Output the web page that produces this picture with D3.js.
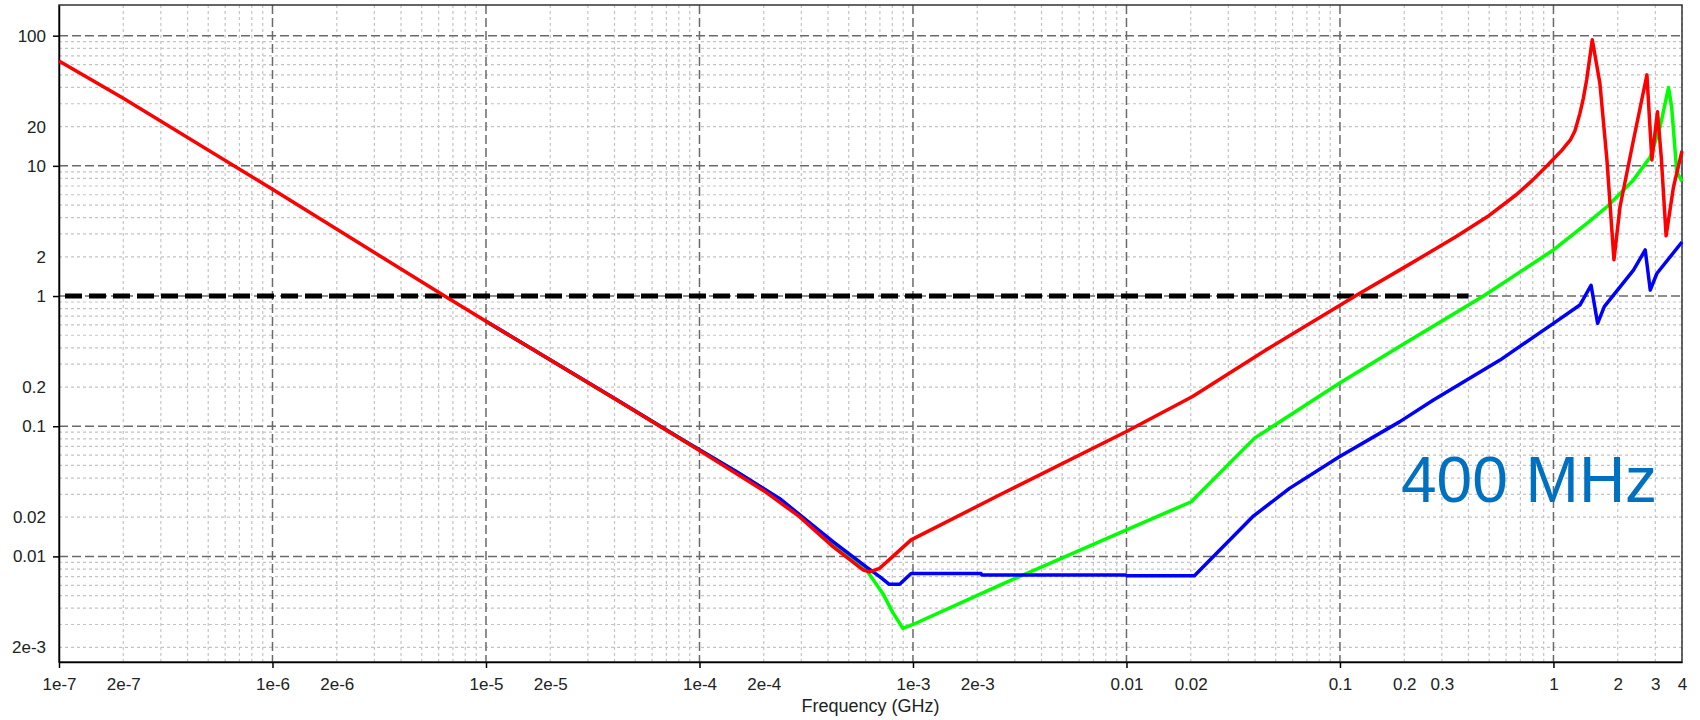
<!DOCTYPE html>
<html>
<head>
<meta charset="utf-8">
<script src="https://cdn.jsdelivr.net/npm/d3@7"></script>
<style>
  body { margin: 0; background: #fff; }
  svg { display: block; }
  .tick text { font-family: "Liberation Sans", Arial, sans-serif; font-size: 17px; fill: #222; }
</style>
</head>
<body>
<script>
// impedance |Z| (ohm) vs frequency (GHz)
const redSeries = [
  [1e-7, 64], [2e-7, 33], [1e-6, 6.6], [6.4e-6, 1.0], [1e-5, 0.64], [4.1e-5, 0.159],
  [1e-4, 0.065], [2e-4, 0.032], [2.94e-4, 0.0202], [4.22e-4, 0.0119], [5.82e-4, 0.0079],
  [6.26e-4, 0.0076], [6.98e-4, 0.0081], [8.05e-4, 0.0100], [9.8e-4, 0.0134],
  [2.54e-3, 0.0296], [0.01, 0.091], [0.0204, 0.169], [0.045, 0.385], [0.1, 0.85],
  [0.12, 1.02], [0.2, 1.66], [0.349, 2.85], [0.5, 4.16], [0.667, 5.97], [0.794, 7.7],
  [0.938, 10.1], [1.096, 13.2], [1.2, 15.8], [1.26, 18.5], [1.33, 25.3], [1.38, 33],
  [1.43, 45.6], [1.52, 93], [1.65, 43], [1.78, 11.1], [1.92, 1.9], [2.05, 4.85],
  [2.37, 15.8], [2.74, 50], [2.89, 11.1], [3.07, 26], [3.2, 11.5], [3.37, 2.9],
  [3.65, 6.9], [4, 13]
];

const greenSeries = [
  [1e-5, 0.64], [4.1e-5, 0.159], [1e-4, 0.066], [1.5e-4, 0.0445], [2.37e-4, 0.0276],
  [3e-4, 0.0203], [4.22e-4, 0.0126], [5.04e-4, 0.0100], [6.04e-4, 0.0079], [7.22e-4, 0.0052],
  [8.05e-4, 0.0037], [8.97e-4, 0.0028], [1.0e-3, 0.0030], [2.54e-3, 0.0060], [0.01, 0.016],
  [0.0201, 0.0263], [0.0398, 0.081], [0.0993, 0.214], [0.19, 0.41], [0.47, 1.0],
  [1.0, 2.26], [1.43, 3.6], [1.78, 4.85], [2.37, 7.8], [2.84, 11.7], [3.16, 20],
  [3.46, 40], [3.58, 28], [3.78, 9], [4, 7.6]
];

const blueSeries = [
  [1e-5, 0.64], [4.1e-5, 0.16], [8.4e-5, 0.078], [1.5e-4, 0.0445], [2.37e-4, 0.0279],
  [3e-4, 0.0204], [4.22e-4, 0.013], [5.04e-4, 0.0104], [6.04e-4, 0.0083], [6.98e-4, 0.0070],
  [7.75e-4, 0.0061], [8.66e-4, 0.0061], [9.8e-4, 0.0074], [2.08e-3, 0.0074],
  [2.1e-3, 0.0072], [0.0099, 0.0072], [0.0101, 0.0071], [0.0208, 0.0071], [0.039, 0.0202],
  [0.058, 0.0333], [0.0993, 0.0583], [0.19, 0.108], [0.274, 0.159], [0.562, 0.322],
  [1.0, 0.617], [1.33, 0.853], [1.5, 1.21], [1.61, 0.617], [1.73, 0.828], [2.37, 1.58],
  [2.69, 2.26], [2.84, 1.11], [3.05, 1.49], [4, 2.6]
];

// target impedance line (1 ohm up to 400 MHz)
const targetLine = [[1e-7, 1], [0.4, 1]];

const xTickValues = [1e-7, 2e-7, 1e-6, 2e-6, 1e-5, 2e-5, 1e-4, 2e-4, 1e-3, 2e-3, 0.01, 0.02, 0.1, 0.2, 0.3, 1, 2, 3, 4];
const xTickLabels = ["1e-7", "2e-7", "1e-6", "2e-6", "1e-5", "2e-5", "1e-4", "2e-4", "1e-3", "2e-3", "0.01", "0.02", "0.1", "0.2", "0.3", "1", "2", "3", "4"];
const yTickValues = [2e-3, 0.01, 0.02, 0.1, 0.2, 1, 2, 10, 20, 100];
const yTickLabels = ["2e-3", "0.01", "0.02", "0.1", "0.2", "1", "2", "10", "20", "100"];

const width = 1700, height = 720;
const margin = {top: 5, right: 18, bottom: 58, left: 59};

const svg = d3.select('body').append('svg')
  .attr('width', width)
  .attr('height', height);

const xScale = d3.scaleLog()
  .domain([1e-7, 4])
  .range([margin.left, width - margin.right]);

const yScale = d3.scaleLog()
  .domain([1.545e-3, 172])
  .range([height - margin.bottom, margin.top]);

const isDecade = v => Math.abs(Math.log10(v) - Math.round(Math.log10(v))) < 1e-9;

// grid: minor dotted, decades dashed
const xGrid = xScale.ticks().filter(v => v > xScale.domain()[0]);
const yGrid = yScale.ticks();

const grid = svg.append('g');
grid.selectAll('.vgrid')
  .data(xGrid)
  .enter()
  .append('line')
  .attr('x1', d => xScale(d)).attr('x2', d => xScale(d))
  .attr('y1', yScale.range()[1]).attr('y2', yScale.range()[0])
  .attr('stroke', d => isDecade(d) ? '#6a6a6a' : '#c4c4c4')
  .attr('stroke-width', d => isDecade(d) ? 1.5 : 1.2)
  .attr('stroke-dasharray', d => isDecade(d) ? '9,4' : '3,3');

grid.selectAll('.hgrid')
  .data(yGrid)
  .enter()
  .append('line')
  .attr('x1', xScale.range()[0]).attr('x2', xScale.range()[1])
  .attr('y1', d => yScale(d)).attr('y2', d => yScale(d))
  .attr('stroke', d => isDecade(d) ? '#6a6a6a' : '#c4c4c4')
  .attr('stroke-width', d => isDecade(d) ? 1.5 : 1.2)
  .attr('stroke-dasharray', d => isDecade(d) ? '9,4' : '3,3');

// major lines on top of the dotted ones
grid.selectAll('line').filter(d => isDecade(d)).raise();

// frame
svg.append('rect')
  .attr('x', margin.left)
  .attr('y', margin.top)
  .attr('width', xScale.range()[1] - margin.left)
  .attr('height', yScale.range()[0] - margin.top)
  .attr('fill', 'none')
  .attr('stroke', '#333')
  .attr('stroke-width', 1.5);

// axes
const xAxis = d3.axisBottom(xScale)
  .tickValues(xTickValues)
  .tickFormat((d, i) => xTickLabels[i])
  .tickSize(6)
  .tickSizeOuter(0)
  .tickPadding(10);

const yAxis = d3.axisLeft(yScale)
  .tickValues(yTickValues)
  .tickFormat((d, i) => yTickLabels[i])
  .tickSize(6)
  .tickSizeOuter(0)
  .tickPadding(7);

const xAxisGroup = svg.append('g')
  .attr('transform', `translate(0, ${yScale.range()[0]})`)
  .call(xAxis);

const yAxisGroup = svg.append('g')
  .attr('transform', `translate(${margin.left}, 0)`)
  .call(yAxis);

[xAxisGroup, yAxisGroup].forEach(g => {
  g.select('.domain').attr('stroke', '#000').attr('stroke-width', 1.5);
  g.selectAll('.tick line')
    .attr('stroke', '#000')
    .attr('stroke-width', 1.5)
    .attr('opacity', d => isDecade(d) ? 1 : 0);
});

svg.append('text')
  .attr('x', (xScale.range()[0] + xScale.range()[1]) / 2)
  .attr('y', 712)
  .attr('text-anchor', 'middle')
  .attr('font-family', '"Liberation Sans", Arial, sans-serif')
  .attr('font-size', 18)
  .attr('fill', '#222')
  .text('Frequency (GHz)');

const line = d3.line()
  .x(d => xScale(d[0]))
  .y(d => yScale(d[1]));

const plot = svg.append('g');

plot.append('path')
  .datum(targetLine)
  .attr('d', line)
  .attr('fill', 'none')
  .attr('stroke', '#000')
  .attr('stroke-width', 5)
  .attr('stroke-dasharray', '17,7')
  .attr('stroke-dashoffset', -6);

const series = [
  {data: greenSeries, color: '#00ff00'},
  {data: blueSeries, color: '#0000ff'},
  {data: redSeries, color: '#ff0000'}
];

plot.selectAll('.curve')
  .data(series)
  .enter()
  .append('path')
  .attr('class', 'curve')
  .attr('d', d => line(d.data))
  .attr('fill', 'none')
  .attr('stroke', d => d.color)
  .attr('stroke-width', 3.5)
  .attr('stroke-linejoin', 'round');

svg.append('text')
  .attr('x', 1401)
  .attr('y', 502)
  .attr('font-family', '"Liberation Sans", Arial, sans-serif')
  .attr('font-size', 64)
  .attr('fill', '#0070c0')
  .text('400 MHz');
</script>
</body>
</html>
